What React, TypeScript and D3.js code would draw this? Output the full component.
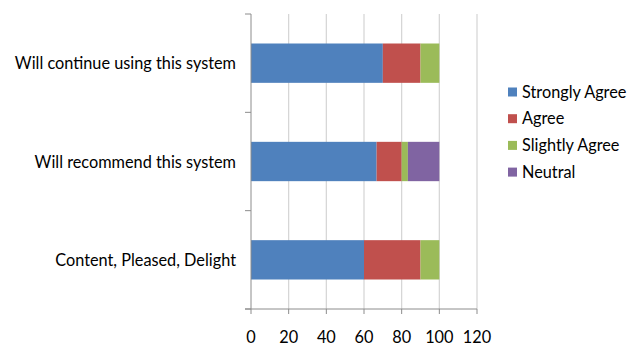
import React from "react";
import * as d3 from "d3";

const categories = [
  "Will continue using this system",
  "Will recommend this system",
  "Content, Pleased, Delight",
];
const seriesNames = ["Strongly Agree", "Agree", "Slightly Agree", "Neutral"];
const stronglyAgree = [70, 66.7, 60];
const agree = [20, 13.3, 30];
const slightlyAgree = [10, 3.3, 10];
const neutral = [0, 16.7, 0];
const xTicks = [0, 20, 40, 60, 80, 100, 120];
const colors = ["#4F81BD", "#C0504D", "#9BBB59", "#8064A2"];

const W = 641;
const H = 345;
const left = 251;
const right = 477;
const top = 14;
const bottom = 309;
const font = "Lato, 'Open Sans', sans-serif";
const fs = 16.3;

export default function App() {
  const x = d3.scaleLinear().domain([0, 120]).range([left, right]);
  const y = d3
    .scaleBand<string>()
    .domain(categories)
    .range([top, bottom])
    .paddingInner(0.6)
    .paddingOuter(0.3);
  const bandStep = (bottom - top) / categories.length;

  const rows = categories.map((c, i) => ({
    cat: c,
    "Strongly Agree": stronglyAgree[i],
    Agree: agree[i],
    "Slightly Agree": slightlyAgree[i],
    Neutral: neutral[i],
  }));
  const stacked = d3.stack<any>().keys(seriesNames)(rows);

  return (
    <svg
      width={W}
      height={H}
      style={{ position: "absolute", left: 0, top: 0, background: "#fff" }}
    >
      {/* vertical gridlines */}
      {xTicks.slice(1).map((t) => (
        <line
          key={"g" + t}
          x1={x(t)}
          x2={x(t)}
          y1={top}
          y2={bottom}
          stroke="#d4d4d4"
          strokeWidth={1.2}
        />
      ))}
      {/* stacked bars */}
      {stacked.map((s, si) => (
        <g key={s.key} fill={colors[si]}>
          {s.map((d, i) =>
            d[1] - d[0] > 0 ? (
              <rect
                key={i}
                x={x(d[0])}
                y={y(categories[i])}
                width={x(d[1]) - x(d[0])}
                height={y.bandwidth()}
              />
            ) : null
          )}
        </g>
      ))}
      {/* axes */}
      <line x1={left} x2={left} y1={top} y2={bottom} stroke="#8c8c8c" strokeWidth={1} />
      <line x1={left - 6} x2={right} y1={bottom} y2={bottom} stroke="#8c8c8c" strokeWidth={1} />
      {d3.range(categories.length + 1).map((k) => (
        <line
          key={"yt" + k}
          x1={left - 6}
          x2={left}
          y1={top + k * bandStep}
          y2={top + k * bandStep}
          stroke="#8c8c8c"
        />
      ))}
      {xTicks.map((t) => (
        <g key={"xt" + t}>
          <line x1={x(t)} x2={x(t)} y1={bottom} y2={bottom + 5} stroke="#8c8c8c" />
          <text
            x={x(t)}
            y={343}
            textAnchor="middle"
            fontFamily={font}
            fontSize={fs}
            fill="#000"
          >
            {t}
          </text>
        </g>
      ))}
      {categories.map((c) => (
        <text
          key={c}
          x={236}
          y={(y(c) as number) + y.bandwidth() / 2 + 6}
          textAnchor="end"
          fontFamily={font}
          fontSize={fs}
          fill="#000"
        >
          {c}
        </text>
      ))}
      {/* legend */}
      {seriesNames.map((n, i) => (
        <g key={n} transform={`translate(508, ${92 + i * 26.7})`}>
          <rect x={0} y={-4.5} width={9} height={9} fill={colors[i]} />
          <text x={14} y={5.5} fontFamily={font} fontSize={fs} fill="#000">
            {n}
          </text>
        </g>
      ))}
    </svg>
  );
}
